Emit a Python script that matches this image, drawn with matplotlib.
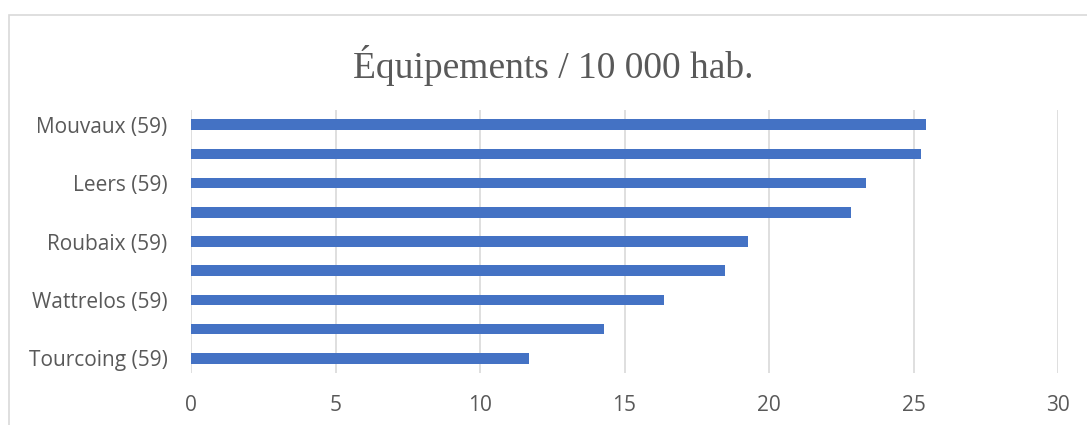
import matplotlib
matplotlib.use("Agg")
import matplotlib.pyplot as plt
from matplotlib.patches import Rectangle

# Data (top to bottom)
categories = ["Mouvaux (59)", "", "Leers (59)", "", "Roubaix (59)", "",
              "Wattrelos (59)", "", "Tourcoing (59)"]
values = [25.42, 25.27, 23.35, 22.85, 19.27, 18.48, 16.35, 14.29, 11.70]
xticks = [0, 5, 10, 15, 20, 25, 30]
title = "Équipements / 10 000 hab."

fig = plt.figure(figsize=(10.87, 4.25), dpi=100)
ax = fig.add_axes([191/1087, 1-373/425, (1058-191)/1087, (373-110)/425])

n = len(categories)
ypos = list(range(n))
ax.barh(ypos, values, height=0.36, color="#4472C4", zorder=3)
ax.set_ylim(n - 0.5, -0.5)
ax.set_xlim(0, 30)
ax.set_xticks(xticks)
ax.set_xticklabels([str(t) for t in xticks])
ax.set_yticks(ypos)
ax.set_yticklabels(categories)

for s in ax.spines.values():
    s.set_visible(False)
ax.grid(axis="x", color="#d9d9d9", linewidth=1.2, zorder=0)
ax.tick_params(axis="both", length=0, labelsize=15, labelcolor="#595959")
ax.tick_params(axis="x", pad=16)
ax.tick_params(axis="y", pad=17)
for lab in ax.get_xticklabels() + ax.get_yticklabels():
    lab.set_fontfamily("Open Sans")

fig.text(553/1087, 1-66/425, title, ha="center", va="center",
         fontsize=27, color="#595959", fontfamily="Liberation Serif")

fig.patches.append(Rectangle((9/1087, -0.1), 1.2, 1.1 - 15/425, transform=fig.transFigure,
                             fill=False, edgecolor="#d9d9d9", linewidth=1.2))

fig.savefig("out.png", dpi=100)
